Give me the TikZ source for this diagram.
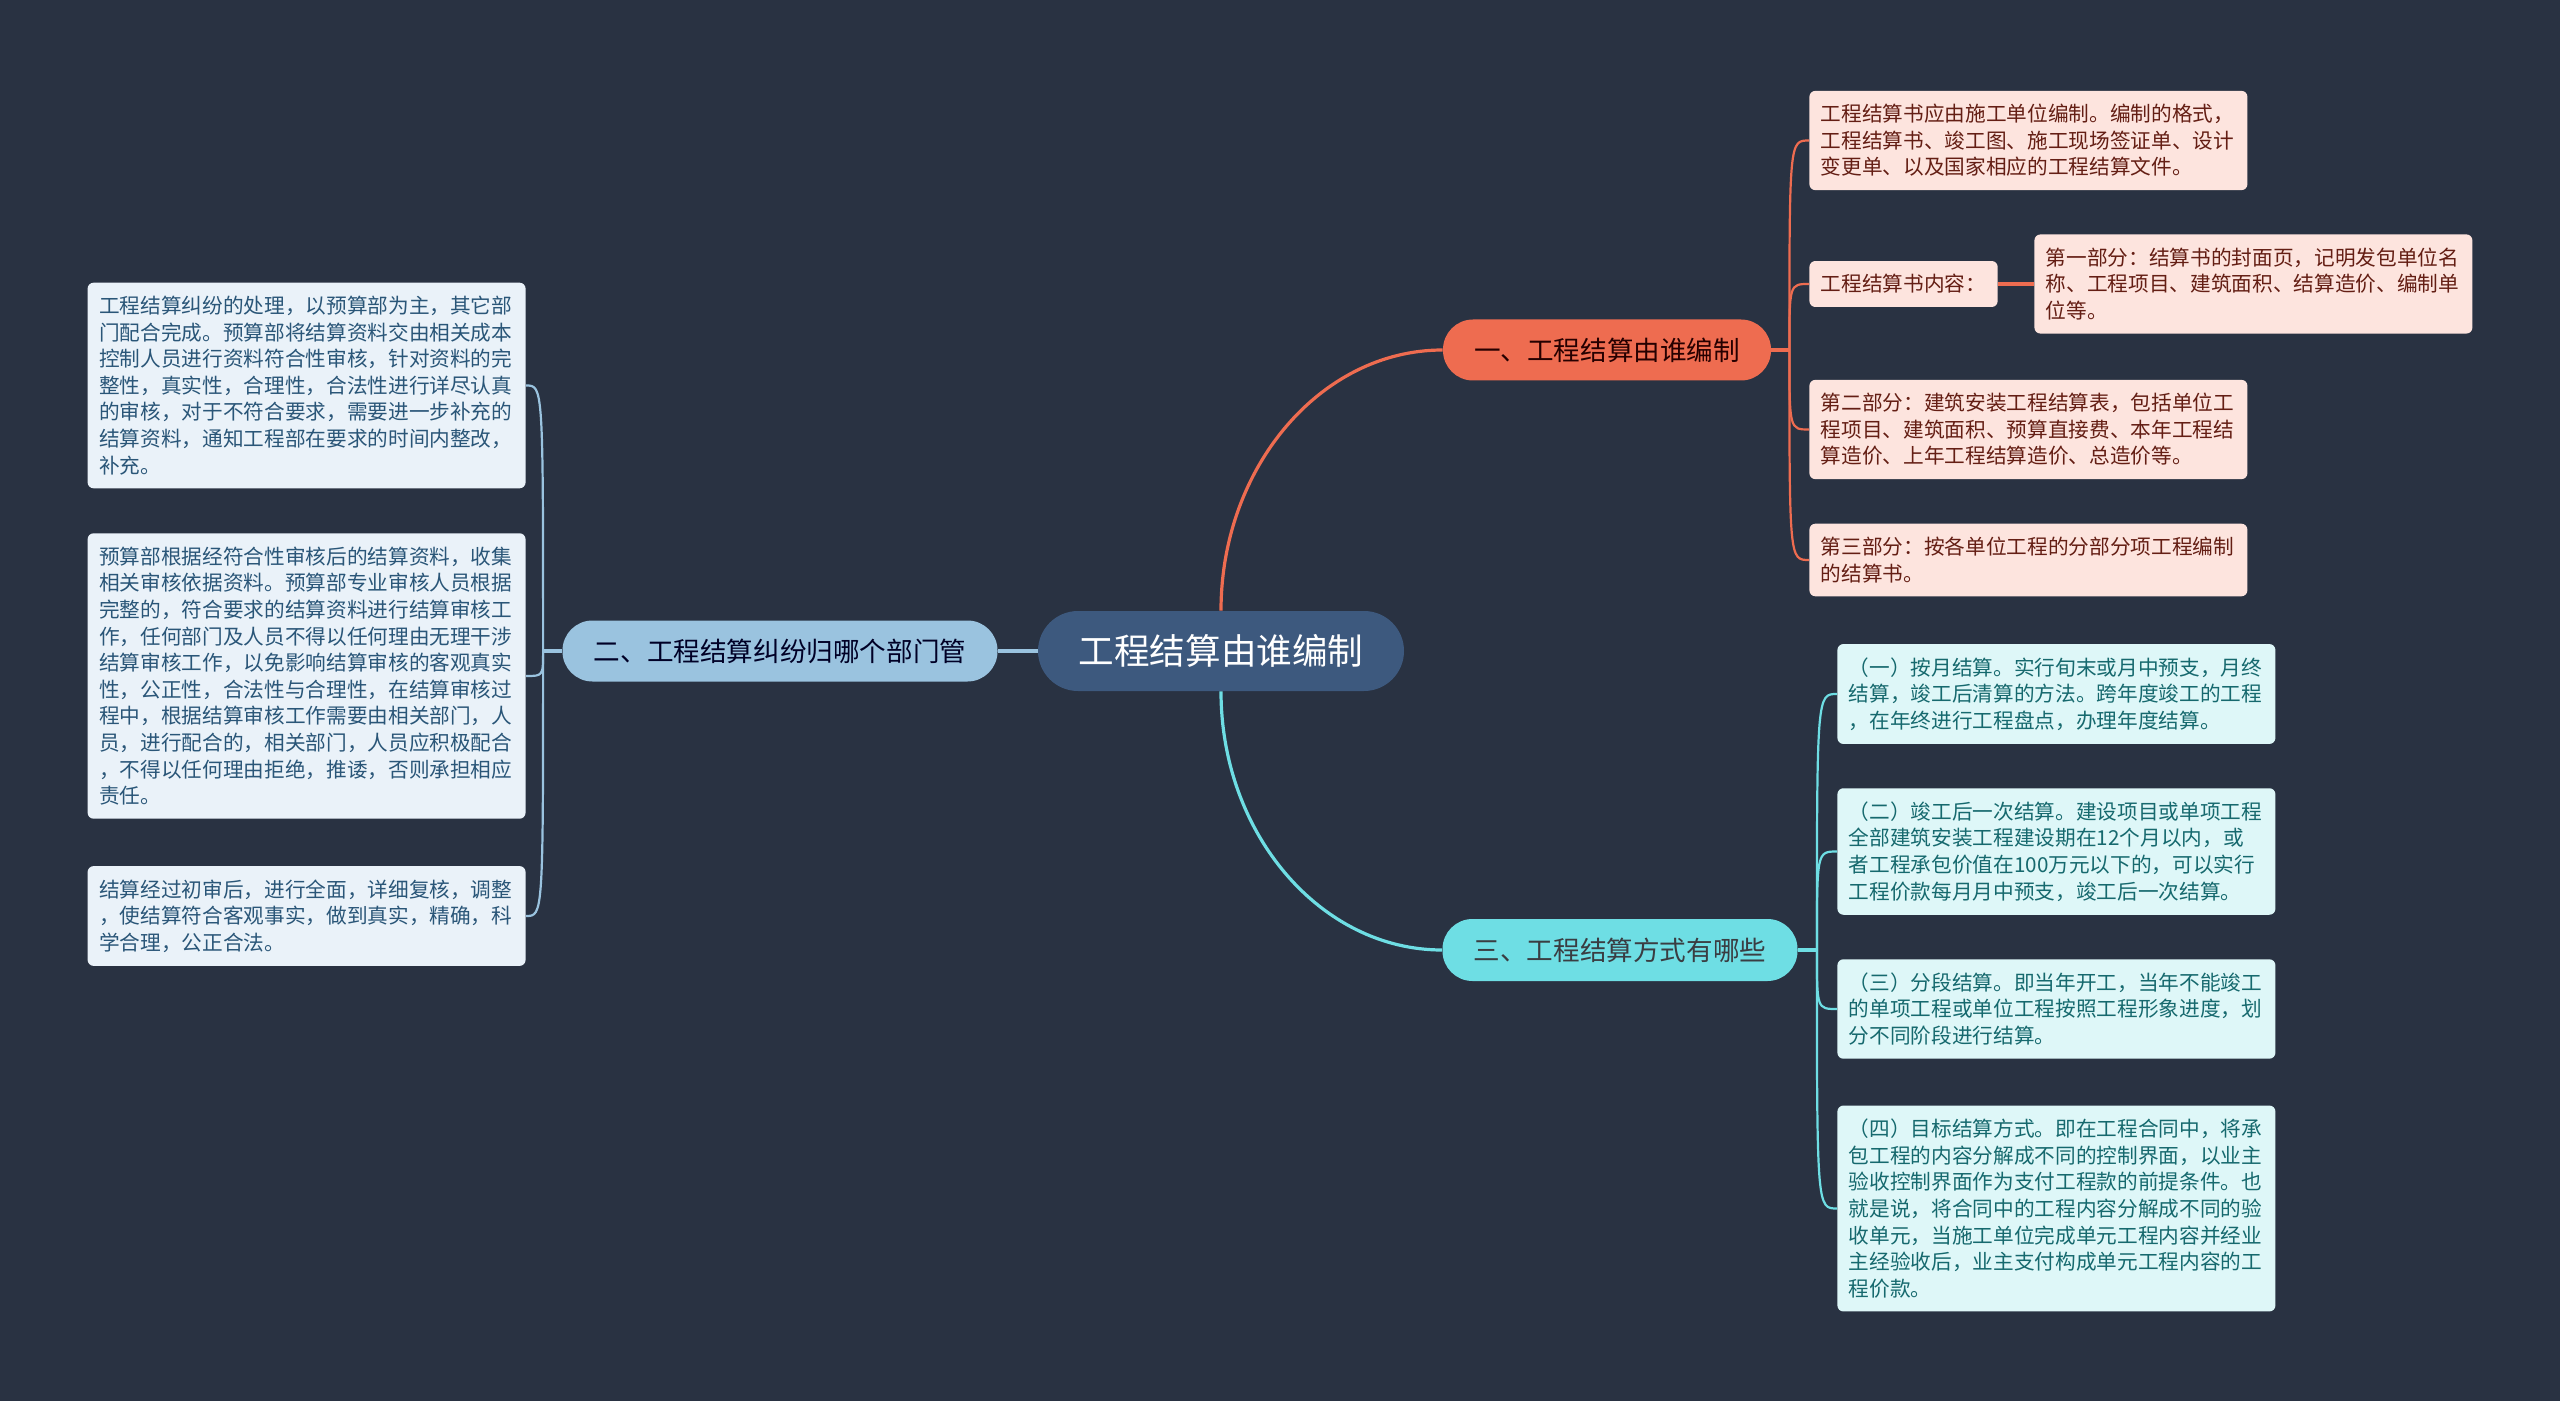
\documentclass[tikz,border=0pt]{standalone}
\usepackage{fontspec}
\setmainfont{Noto Sans CJK SC}
\usepackage{tikz}
\usetikzlibrary{calc}
\definecolor{bgdark}{RGB}{41,50,66}
\definecolor{rootblue}{RGB}{61,89,126}
\definecolor{topicorange}{RGB}{238,108,80}
\definecolor{topiccyan}{RGB}{110,222,228}
\definecolor{topicblue}{RGB}{154,195,223}
\definecolor{leafpink}{RGB}{253,228,222}
\definecolor{leafcyan}{RGB}{222,247,248}
\definecolor{leafblue}{RGB}{234,242,249}
\definecolor{textbrown}{RGB}{100,30,20}
\definecolor{textteal}{RGB}{22,105,110}
\definecolor{textnavy}{RGB}{42,86,120}

\begin{document}
\begin{tikzpicture}[x=0.5pt, y=-0.5pt,
  topic/.style={rounded corners=15pt, minimum height=30.5pt, inner sep=0pt, font=\fontsize{13.3pt}{16pt}\selectfont},
  leafbox/.style={rounded corners=3pt, inner xsep=5.75pt, inner ysep=6.7pt, text width=207.5pt, align=left, font=\fontsize{10.33pt}{13.3pt}\selectfont},
  oline/.style={draw=topicorange, line width=1.1pt},
  cline/.style={draw=topiccyan, line width=1.1pt},
  bline/.style={draw=topicblue, line width=1.1pt},
]
% background and page size
\fill[bgdark] (0,0) rectangle (2560,1401);

% ===================== Central topic =====================
\node[fill=rootblue, text=white, rounded corners=20pt, minimum width=183pt, minimum height=40pt, inner sep=0pt, font=\fontsize{17.8pt}{20pt}\selectfont] (root) at (1221,651) {工程结算由谁编制};

% main topics
\node[topic, fill=topicorange, text=black!85!red, minimum width=164pt] (t1) at (1607,350) {一、工程结算由谁编制};
\node[topic, fill=topicblue, text=black!85!blue, minimum width=217.5pt] (t2) at (780,651) {二、工程结算纠纷归哪个部门管};
\node[topic, fill=topiccyan, text=black!85!cyan, minimum width=177.5pt, minimum height=31pt] (t3) at (1620,950) {三、工程结算方式有哪些};

% connectors from the centre
\coordinate (k1) at (root.north |- t1.west);
\coordinate (k3) at (root.south |- t3.west);
\draw[oline, line width=1.6pt] (root.north) .. controls ($(root.north)!0.55!(k1)$) and ($(t1.west)!0.55!(k1)$) .. (t1.west);
\draw[cline, line width=1.6pt] (root.south) .. controls ($(root.south)!0.55!(k3)$) and ($(t3.west)!0.55!(k3)$) .. (t3.west);
\draw[bline, line width=1.6pt] (root.west) -- (t2.east);

% ===================== Branch 1: who prepares =====================
\node[leafbox, fill=leafpink, text=textbrown, anchor=west] (a1) at (1809,140.5) {%
工程结算书应由施工单位编制。编制的格式，\\
工程结算书、竣工图、施工现场签证单、设计\\
变更单、以及国家相应的工程结算文件。};

\node[leafbox, fill=leafpink, text=textbrown, anchor=west, text width=, align=center] (a2) at (1809,284) {工程结算书内容：};

\node[leafbox, fill=leafpink, text=textbrown, anchor=west] (a2a) at (2034,284) {%
第一部分：结算书的封面页，记明发包单位名\\
称、工程项目、建筑面积、结算造价、编制单\\
位等。};

\node[leafbox, fill=leafpink, text=textbrown, anchor=west] (a3) at (1809,429.5) {%
第二部分：建筑安装工程结算表，包括单位工\\
程项目、建筑面积、预算直接费、本年工程结\\
算造价、上年工程结算造价、总造价等。};

\node[leafbox, fill=leafpink, text=textbrown, anchor=west] (a4) at (1809,560) {%
第三部分：按各单位工程的分部分项工程编制\\
的结算书。};

\coordinate (j1) at ([xshift=9pt]t1.east);
\draw[oline, line width=1.6pt] (t1.east) -- (j1);
\draw[oline] (j1) .. controls (j1 |- a1.west) .. (a1.west);
\draw[oline] (j1) .. controls (j1 |- a2.west) .. (a2.west);
\draw[oline] (j1) .. controls (j1 |- a3.west) .. (a3.west);
\draw[oline] (j1) .. controls (j1 |- a4.west) .. (a4.west);
\draw[oline, line width=1.6pt] (a2.east) -- (a2a.west);

% ===================== Branch 2: which department =====================
\node[leafbox, fill=leafblue, text=textnavy, anchor=east] (c1) at (526,385.5) {%
工程结算纠纷的处理，以预算部为主，其它部\\
门配合完成。预算部将结算资料交由相关成本\\
控制人员进行资料符合性审核，针对资料的完\\
整性，真实性，合理性，合法性进行详尽认真\\
的审核，对于不符合要求，需要进一步补充的\\
结算资料，通知工程部在要求的时间内整改，\\
补充。};

\node[leafbox, fill=leafblue, text=textnavy, anchor=east] (c2) at (526,676) {%
预算部根据经符合性审核后的结算资料，收集\\
相关审核依据资料。预算部专业审核人员根据\\
完整的，符合要求的结算资料进行结算审核工\\
作，任何部门及人员不得以任何理由无理干涉\\
结算审核工作，以免影响结算审核的客观真实\\
性，公正性，合法性与合理性，在结算审核过\\
程中，根据结算审核工作需要由相关部门，人\\
员，进行配合的，相关部门，人员应积极配合\\
，不得以任何理由拒绝，推诿，否则承担相应\\
责任。};

\node[leafbox, fill=leafblue, text=textnavy, anchor=east] (c3) at (526,916) {%
结算经过初审后，进行全面，详细复核，调整\\
，使结算符合客观事实，做到真实，精确，科\\
学合理，公正合法。};

\coordinate (j2) at ([xshift=-9.5pt]t2.west);
\draw[bline, line width=1.6pt] (t2.west) -- (j2);
\draw[bline] (j2) .. controls (j2 |- c1.east) .. (c1.east);
\draw[bline] (j2) .. controls (j2 |- c2.east) .. (c2.east);
\draw[bline] (j2) .. controls (j2 |- c3.east) .. (c3.east);

% ===================== Branch 3: settlement methods =====================
\node[leafbox, fill=leafcyan, text=textteal, anchor=west] (b1) at (1837,694) {%
（一）按月结算。实行旬末或月中预支，月终\\
结算，竣工后清算的方法。跨年度竣工的工程\\
，在年终进行工程盘点，办理年度结算。};

\node[leafbox, fill=leafcyan, text=textteal, anchor=west] (b2) at (1837,851.5) {%
（二）竣工后一次结算。建设项目或单项工程\\
全部建筑安装工程建设期在12个月以内，或\\
者工程承包价值在100万元以下的，可以实行\\
工程价款每月月中预支，竣工后一次结算。};

\node[leafbox, fill=leafcyan, text=textteal, anchor=west] (b3) at (1837,1009) {%
（三）分段结算。即当年开工，当年不能竣工\\
的单项工程或单位工程按照工程形象进度，划\\
分不同阶段进行结算。};

\node[leafbox, fill=leafcyan, text=textteal, anchor=west] (b4) at (1837,1208.5) {%
（四）目标结算方式。即在工程合同中，将承\\
包工程的内容分解成不同的控制界面，以业主\\
验收控制界面作为支付工程款的前提条件。也\\
就是说，将合同中的工程内容分解成不同的验\\
收单元，当施工单位完成单元工程内容并经业\\
主经验收后，业主支付构成单元工程内容的工\\
程价款。};

\coordinate (j3) at ([xshift=9.5pt]t3.east);
\draw[cline, line width=1.6pt] (t3.east) -- (j3);
\draw[cline] (j3) .. controls (j3 |- b1.west) .. (b1.west);
\draw[cline] (j3) .. controls (j3 |- b2.west) .. (b2.west);
\draw[cline] (j3) .. controls (j3 |- b3.west) .. (b3.west);
\draw[cline] (j3) .. controls (j3 |- b4.west) .. (b4.west);

\end{tikzpicture}
\end{document}
